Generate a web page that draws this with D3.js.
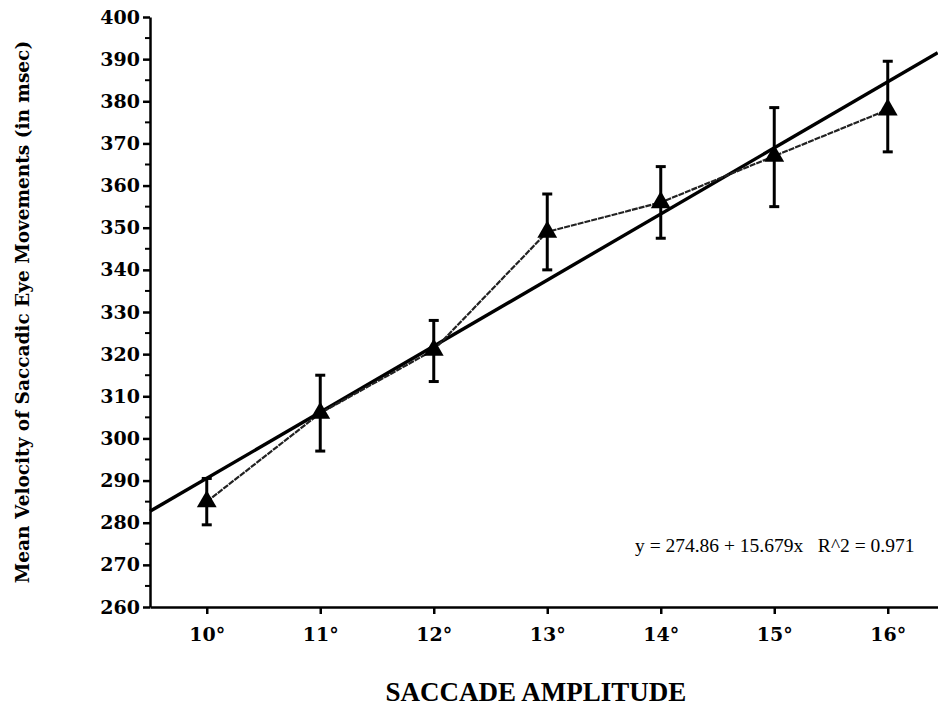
<!DOCTYPE html>
<html lang="en">
<head>
<meta charset="UTF-8">
<title>Saccade amplitude vs velocity</title>
<style>
  body { margin: 0; background: #fff; }
  svg { display: block; }
</style>
</head>
<body>
<svg id="chart"></svg>
<script src="https://d3js.org/d3.v7.min.js"></script>
<script>
// data
const amplitudes = [10, 11, 12, 13, 14, 15, 16];
const meanVelocity = [285, 306, 321, 349, 356, 367, 378];
const errLow = [279.5, 297, 313.5, 340, 347.5, 355, 368];
const errHigh = [290.5, 315, 328, 358, 364.5, 378.5, 389.5];
const yTicks = [260, 270, 280, 290, 300, 310, 320, 330, 340, 350, 360, 370, 380, 390, 400];
const fitIntercept = 274.86;
const fitSlope = 15.679;
const fitLabel = "y = 274.86 + 15.679x   R^2 = 0.971";

const width = 938, height = 706;
const svg = d3.select("#chart").attr("width", width).attr("height", height);

const x = d3.scaleLinear().domain([9.5, 16.5]).range([150, 944.5]);
const y = d3.scaleLinear().domain([260, 400]).range([607, 17]);

// y axis
const yAxis = svg.append("g").attr("transform", "translate(150,0)")
  .call(d3.axisLeft(y).tickValues(yTicks).tickSize(7).tickSizeOuter(0).tickPadding(3));
yAxis.selectAll(".tick text")
  .attr("font-family", "DejaVu Serif").attr("font-weight", "bold").attr("font-size", 19)
  .attr("fill", "#000");
// minor ticks
svg.append("g").selectAll("line")
  .data(d3.range(265, 400, 10))
  .join("line")
  .attr("x1", 150).attr("x2", 145)
  .attr("y1", d => y(d)).attr("y2", d => y(d))
  .attr("stroke", "#000").attr("stroke-width", 2);

// x axis
const xAxis = svg.append("g").attr("transform", "translate(0,607)")
  .call(d3.axisBottom(x).tickValues(amplitudes).tickFormat(d => d + "°")
    .tickSize(7).tickSizeOuter(0).tickPadding(14));
xAxis.selectAll(".tick text")
  .attr("font-family", "DejaVu Serif").attr("font-weight", "bold").attr("font-size", 19)
  .attr("fill", "#000");

svg.selectAll(".domain").attr("stroke", "#000").attr("stroke-width", 2.5);
svg.selectAll(".tick line").attr("stroke", "#000").attr("stroke-width", 2.5);

// regression line (x is point index 1..7)
const fit = d => fitIntercept + fitSlope * (d - 9);
svg.append("line")
  .attr("x1", x(9.5)).attr("y1", y(fit(9.5)))
  .attr("x2", x(16.44)).attr("y2", y(fit(16.44)))
  .attr("stroke", "#000").attr("stroke-width", 3.4);

// connecting line
svg.append("path")
  .datum(amplitudes.map((a, i) => [a, meanVelocity[i]]))
  .attr("fill", "none")
  .attr("stroke", "#222").attr("stroke-width", 2.2).attr("stroke-dasharray", "6,1")
  .attr("d", d3.line().x(d => x(d[0])).y(d => y(d[1])));

// error bars
const bars = svg.append("g").selectAll("g")
  .data(amplitudes.map((a, i) => ({ a, lo: errLow[i], hi: errHigh[i] })))
  .join("g")
  .attr("stroke", "#000");
bars.append("line")
  .attr("x1", d => x(d.a)).attr("x2", d => x(d.a))
  .attr("y1", d => y(d.lo)).attr("y2", d => y(d.hi))
  .attr("stroke-width", 3);
bars.append("line")
  .attr("x1", d => x(d.a) - 5).attr("x2", d => x(d.a) + 5)
  .attr("y1", d => y(d.lo)).attr("y2", d => y(d.lo))
  .attr("stroke-width", 3);
bars.append("line")
  .attr("x1", d => x(d.a) - 5).attr("x2", d => x(d.a) + 5)
  .attr("y1", d => y(d.hi)).attr("y2", d => y(d.hi))
  .attr("stroke-width", 3);

// markers
svg.append("g").selectAll("path")
  .data(amplitudes.map((a, i) => [a, meanVelocity[i]]))
  .join("path")
  .attr("d", d3.symbol(d3.symbolTriangle, 170))
  .attr("transform", d => `translate(${x(d[0])},${y(d[1])})`)
  .attr("fill", "#000");

// equation
svg.append("text")
  .attr("x", 635).attr("y", 552)
  .attr("font-family", "Liberation Serif").attr("font-size", 19.5)
  .attr("xml:space", "preserve")
  .style("white-space", "pre")
  .text(fitLabel);

// axis titles
svg.append("text")
  .attr("x", 536).attr("y", 701)
  .attr("text-anchor", "middle")
  .attr("font-family", "Liberation Serif").attr("font-weight", "bold").attr("font-size", 27)
  .text("SACCADE AMPLITUDE");

svg.append("text")
  .attr("transform", "translate(29,312) rotate(-90)")
  .attr("text-anchor", "middle")
  .attr("font-family", "DejaVu Serif").attr("font-weight", "bold").attr("font-size", 18.5)
  .text("Mean Velocity of Saccadic Eye Movements (in msec)");
</script>
</body>
</html>
